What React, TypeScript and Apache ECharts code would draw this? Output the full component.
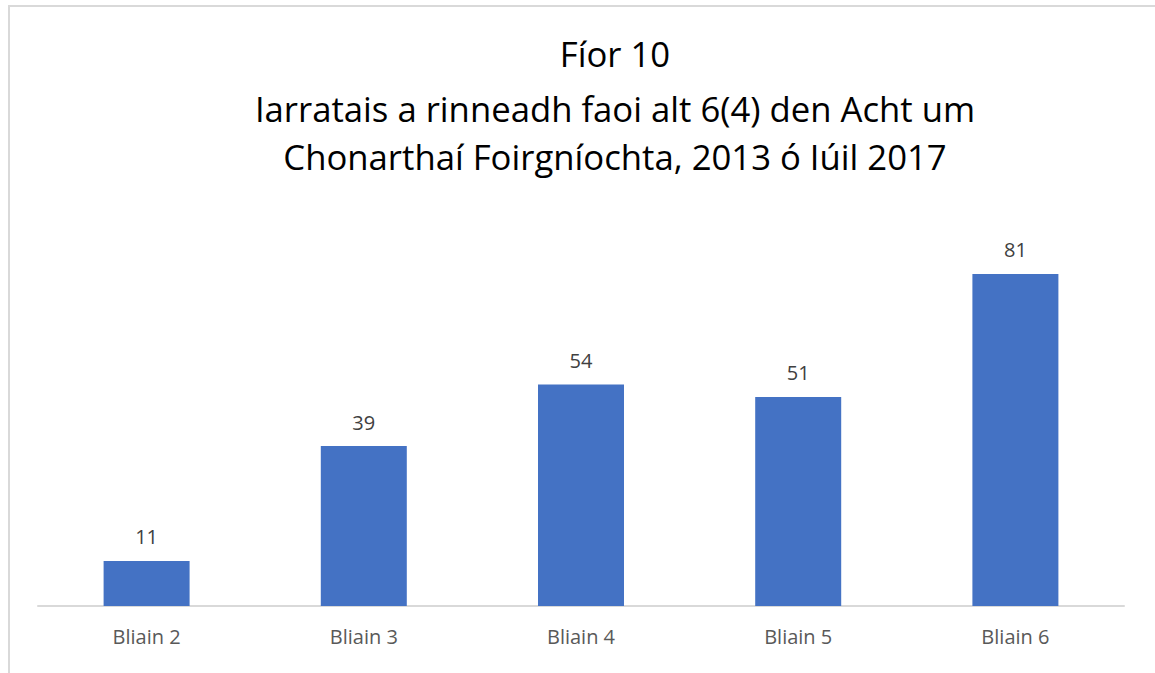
import React, { useEffect, useRef } from "react";
import * as echarts from "echarts";

const titleLines = [
  "Fíor 10",
  "Iarratais a rinneadh faoi alt 6(4) den Acht um",
  "Chonarthaí Foirgníochta, 2013 ó Iúil 2017",
];
const categories = ["Bliain 2", "Bliain 3", "Bliain 4", "Bliain 5", "Bliain 6"];
const values = [11, 39, 54, 51, 81];

export default function App() {
  const ref = useRef<HTMLDivElement>(null);
  useEffect(() => {
    if (!ref.current) return;
    document.body.style.margin = "0";
    document.body.style.overflow = "hidden";
    const chart = echarts.init(ref.current, null, { renderer: "svg" });
    const font = "'Open Sans', 'Noto Sans', sans-serif";
    chart.setOption({
      animation: false,
      backgroundColor: "#ffffff",
      graphic: [
        {
          type: "polyline",
          shape: { points: [[9, 700], [9, 6], [1200, 6]] },
          style: { fill: "none", stroke: "#d9d9d9", lineWidth: 2 },
          silent: true,
        },
        ...titleLines.map((t, i) => ({
          type: "text",
          x: 615,
          y: [53, 108, 156][i],
          style: {
            text: t,
            fill: "#000000",
            font: `34.7px ${font}`,
            textAlign: "center",
            textVerticalAlign: "middle",
          },
        })),
      ],
      grid: { left: 38, right: 31, top: 237, bottom: 67, containLabel: false },
      xAxis: {
        type: "category",
        data: categories,
        axisLine: { lineStyle: { color: "#d9d9d9", width: 2 } },
        axisTick: { show: false },
        axisLabel: { color: "#595959", fontSize: 20, fontFamily: font, margin: 20 },
      },
      yAxis: {
        type: "value",
        min: 0,
        max: 90,
        show: false,
        splitLine: { show: false },
      },
      series: [
        {
          type: "bar",
          data: values,
          barWidth: 86,
          itemStyle: { color: "#4472c4" },
          label: {
            show: true,
            position: "top",
            distance: 14,
            color: "#404040",
            fontSize: 20,
            fontFamily: font,
          },
        },
      ],
    });
    return () => chart.dispose();
  }, []);
  return (
    <div
      ref={ref}
      style={{ position: "absolute", left: 0, top: 0, width: 1155, height: 673 }}
    />
  );
}
